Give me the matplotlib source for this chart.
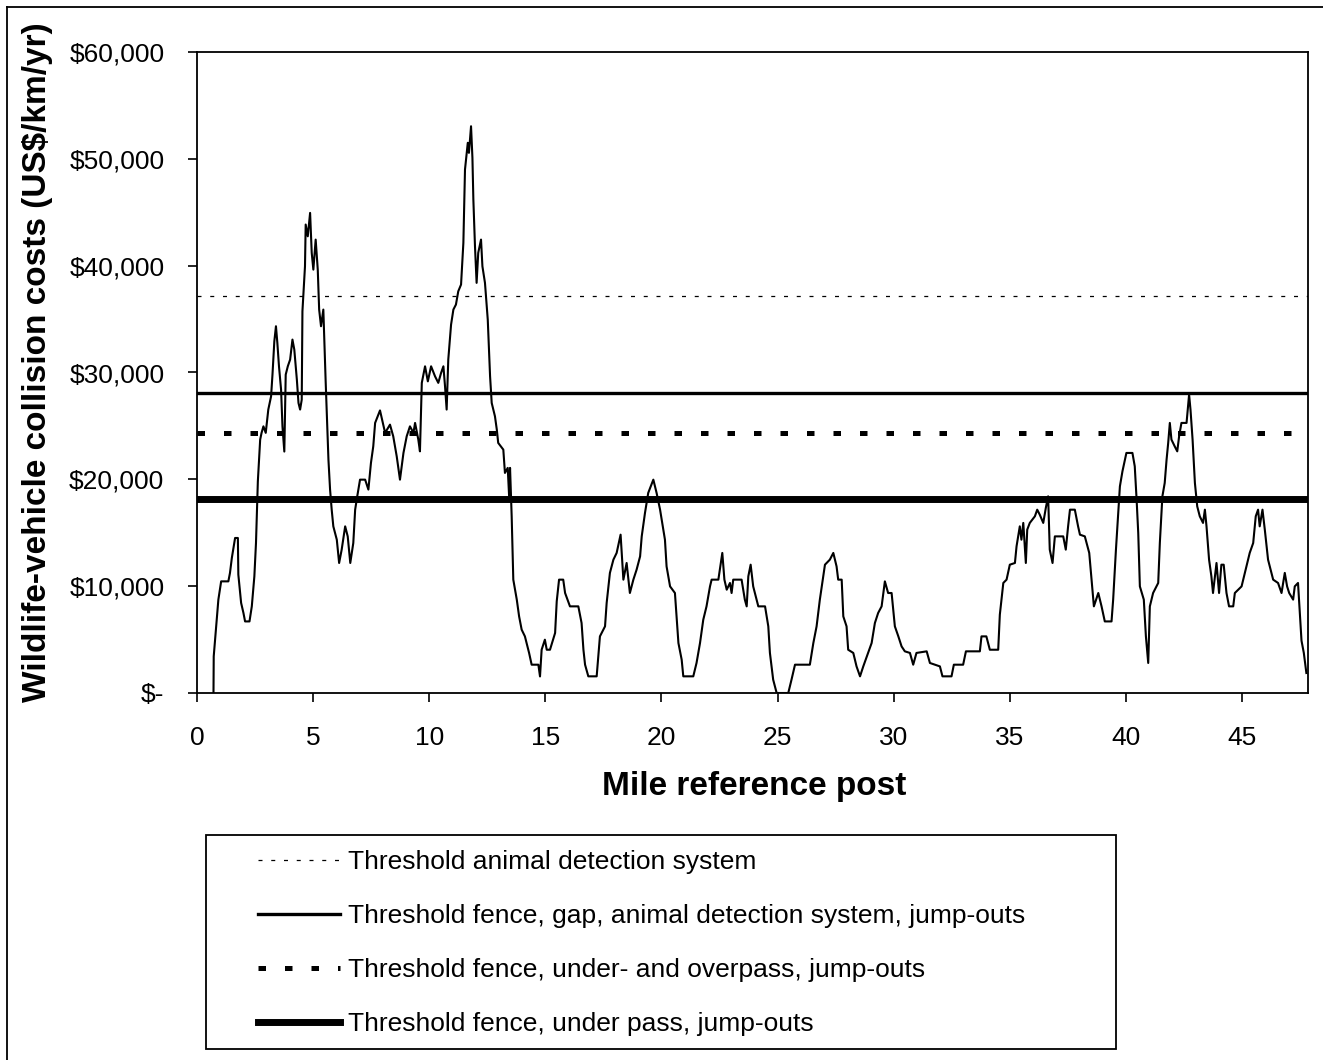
import matplotlib
matplotlib.use("Agg")
import matplotlib.pyplot as plt
from matplotlib.lines import Line2D
from matplotlib.patches import Rectangle

plt.rcParams['font.family'] = ['Liberation Sans', 'DejaVu Sans']

# mile post along the road and collision cost (US$/km/yr)
mile = [0.71, 0.72, 0.85, 0.92, 1.04, 1.35, 1.42, 1.50, 1.64, 1.76, 1.78, 1.90, 2.00, 2.07, 2.26,
        2.36, 2.47, 2.54, 2.62, 2.72, 2.78, 2.86, 2.96, 3.07, 3.19, 3.25, 3.33, 3.40, 3.46, 3.53,
        3.62, 3.68, 3.76, 3.82, 3.91, 4.01, 4.11, 4.19, 4.30, 4.37, 4.44, 4.51, 4.54, 4.65, 4.68,
        4.77, 4.87, 4.94, 5.01, 5.11, 5.20, 5.26, 5.34, 5.44, 5.54, 5.66, 5.73, 5.80, 5.87, 6.02,
        6.12, 6.23, 6.38, 6.49, 6.60, 6.73, 6.81, 6.90, 7.02, 7.24, 7.38, 7.49, 7.59, 7.67, 7.88,
        8.10, 8.31, 8.45, 8.60, 8.74, 8.89, 9.03, 9.17, 9.32, 9.39, 9.53, 9.60, 9.68, 9.82, 9.94,
        10.08, 10.25, 10.39, 10.51, 10.61, 10.68, 10.75, 10.82, 10.94, 11.04, 11.15, 11.25, 11.37,
        11.47, 11.54, 11.66, 11.71, 11.80, 11.86, 11.90, 11.97, 12.04, 12.11, 12.23, 12.29, 12.40,
        12.52, 12.62, 12.69, 12.83, 12.91, 12.97, 13.19, 13.26, 13.38, 13.44, 13.48, 13.55, 13.62,
        13.77, 13.87, 13.98, 14.12, 14.30, 14.41, 14.70, 14.77, 14.84, 14.98, 15.06, 15.20, 15.42,
        15.49, 15.59, 15.77, 15.85, 16.06, 16.42, 16.56, 16.64, 16.71, 16.85, 17.21, 17.28, 17.35,
        17.57, 17.64, 17.78, 17.93, 18.07, 18.24, 18.36, 18.50, 18.64, 18.79, 18.93, 19.08, 19.15,
        19.29, 19.43, 19.65, 19.79, 19.94, 20.15, 20.22, 20.37, 20.58, 20.65, 20.73, 20.87, 20.94,
        21.37, 21.51, 21.66, 21.80, 21.94, 22.09, 22.16, 22.45, 22.62, 22.71, 22.81, 22.95, 23.02,
        23.09, 23.45, 23.59, 23.67, 23.74, 23.84, 23.95, 24.17, 24.46, 24.60, 24.67, 24.81, 24.96,
        25.46, 25.60, 25.75, 26.39, 26.54, 26.68, 26.82, 27.04, 27.25, 27.40, 27.54, 27.61, 27.76,
        27.83, 27.97, 28.04, 28.26, 28.40, 28.55, 28.69, 28.90, 29.05, 29.19, 29.33, 29.48, 29.62,
        29.76, 29.91, 30.05, 30.20, 30.34, 30.48, 30.70, 30.84, 30.98, 31.42, 31.56, 31.99, 32.10,
        32.49, 32.59, 32.99, 33.11, 33.71, 33.78, 33.99, 34.14, 34.50, 34.57, 34.72, 34.86, 35.00,
        35.22, 35.29, 35.43, 35.50, 35.58, 35.69, 35.75, 35.86, 36.08, 36.18, 36.29, 36.44, 36.55,
        36.65, 36.72, 36.84, 36.94, 37.30, 37.41, 37.51, 37.59, 37.80, 37.94, 38.02, 38.23, 38.42,
        38.52, 38.62, 38.81, 38.95, 39.09, 39.38, 39.45, 39.57, 39.67, 39.74, 39.85, 40.02, 40.28,
        40.38, 40.46, 40.53, 40.60, 40.77, 40.86, 40.96, 41.03, 41.17, 41.39, 41.46, 41.57, 41.67,
        41.75, 41.82, 41.89, 41.96, 42.10, 42.21, 42.29, 42.39, 42.61, 42.72, 42.78, 42.87, 42.97,
        43.07, 43.18, 43.32, 43.40, 43.47, 43.58, 43.68, 43.75, 43.90, 44.01, 44.11, 44.21, 44.33,
        44.44, 44.62, 44.69, 44.98, 45.12, 45.33, 45.48, 45.59, 45.69, 45.76, 45.88, 45.98, 46.12,
        46.34, 46.55, 46.70, 46.84, 46.94, 47.03, 47.20, 47.27, 47.41, 47.49, 47.56, 47.66, 47.77]
cost = [0, 3430, 6860, 8740, 10450, 10450, 11240, 12640, 14510, 14510, 11080, 8430, 7490, 6700, 6700,
        8110, 10920, 14040, 19810, 23720, 24350, 24960, 24350, 26530, 27770, 29800, 32920, 34330, 32770, 30580,
        28400, 24960, 22600, 29800, 30580, 31210, 33080, 32140, 29330, 27150, 26530, 27460, 35730, 39940, 43850,
        42750, 44940, 41200, 39630, 42440, 39630, 35890, 34330, 35890, 29170, 21840, 19040, 17160, 15600, 14350,
        12170, 13420, 15600, 14660, 12170, 14040, 17160, 18410, 19970, 19970, 19040, 21530, 23090, 25280, 26450,
        24350, 25120, 24030, 22150, 19970, 22470, 24030, 24960, 24350, 25280, 23720, 22620, 29030, 30580, 29170,
        30580, 29640, 29030, 29960, 30580, 28710, 26530, 31210, 34480, 35890, 36360, 37600, 38230,
        42130, 49000, 51500, 50560, 53050, 50090, 46190, 41820, 38390, 41200, 42440, 39940, 38390,
        34950, 29640, 27150, 25900, 24650, 23410, 22780, 20600, 21070, 18410, 21070, 16540, 10610,
        8740, 7170, 5930, 5300, 3750, 2650, 2650, 1550, 4050, 4990, 4050, 4050, 5620,
        8580, 10610, 10610, 9360, 8110, 8110, 6550, 4050, 2650, 1560, 1560, 3430, 5300,
        6240, 8430, 11240, 12480, 13110, 14820, 10610, 12170, 9360, 10610, 11550, 12790, 14660,
        16850, 18730, 19970, 18730, 17160, 14350, 11850, 9980, 9360, 7170, 4680, 3120, 1560,
        1560, 2810, 4680, 6860, 8110, 9980, 10610, 10610, 13110, 10610, 9670, 10300, 9360,
        10610, 10610, 8740, 8110, 10920, 12010, 9980, 8110, 8110, 6240, 3750, 1250, 0,
        0, 1250, 2650, 2650, 4680, 6240, 8740, 12010, 12480, 13110, 11850, 10610, 10610,
        7170, 6240, 4050, 3750, 2490, 1560, 2490, 3750, 4680, 6550, 7490, 8110, 10450,
        9360, 9360, 6240, 5300, 4360, 3900, 3750, 2650, 3750, 3900, 2810, 2490, 1560,
        1560, 2650, 2650, 3900, 3900, 5300, 5300, 4050, 4050, 7330, 10300, 10610, 12010,
        12170, 13730, 15600, 14350, 15920, 12170, 15290, 15920, 16540, 17160, 16690, 15920, 17320,
        18410, 13420, 12170, 14660, 14660, 13420, 15600, 17160, 17160, 15600, 14820, 14660, 13110,
        10610, 8110, 9360, 8110, 6700, 6700, 8740, 13420, 16850, 19340, 20750, 22470, 22470,
        21220, 18100, 14980, 9980, 8740, 5300, 2810, 8110, 9360, 10300, 14040, 18410, 19660,
        21840, 23410, 25280, 23720, 23090, 22620, 24030, 25280, 25280, 27930, 26530, 23720, 19660,
        17470, 16540, 15920, 17160, 15600, 12480, 10920, 9360, 12170, 9360, 12010, 12010, 9360,
        8110, 8110, 9360, 9980, 11240, 13110, 14040, 16540, 17160, 15600, 17160, 15290, 12480,
        10610, 10300, 9360, 11240, 9980, 9360, 8740, 9980, 10300, 7490, 4900, 3750, 1870]

# threshold values (US$/km/yr)
threshold_names = ['Threshold animal detection system',
                   'Threshold fence, gap, animal detection system, jump-outs',
                   'Threshold fence, under- and overpass, jump-outs',
                   'Threshold fence, under pass, jump-outs']
threshold_values = [37200, 28100, 24300, 18200]

y_ticks = [0, 10000, 20000, 30000, 40000, 50000, 60000]
y_tick_labels = ['$-', '$10,000', '$20,000', '$30,000', '$40,000', '$50,000', '$60,000']
x_ticks = [0, 5, 10, 15, 20, 25, 30, 35, 40, 45]

W, H = 1323, 1060
fig = plt.figure(figsize=(W / 100, H / 100), dpi=100)
ax = fig.add_axes([197 / W, 1 - 693 / H, (1308 - 197) / W, (693 - 52) / H])

# line styles for the four thresholds
styles = [dict(lw=0.9, ls=(0, (3.2, 7.0))),
          dict(lw=2.4, ls='-'),
          dict(lw=3.6, ls=(0, (1.5, 3.8))),
          dict(lw=5.0, ls='-')]

handles = []
for name, val, st in zip(threshold_names, threshold_values, styles):
    h = ax.axhline(val, color='black', label=name, zorder=2, **st)
    handles.append(h)

ax.plot(mile, cost, color='black', lw=1.5, zorder=3)

ax.set_xlim(0, 47.84)
ax.set_ylim(0, 60000)
ax.set_xticks(x_ticks)
ax.set_yticks(y_ticks)
ax.set_yticklabels(y_tick_labels)
ax.tick_params(direction='out', length=6.5, width=1.2, labelsize=19, colors='black')
ax.tick_params(axis='y', pad=17)
ax.tick_params(axis='x', pad=17)
for sp in ax.spines.values():
    sp.set_linewidth(1.3)
    sp.set_color('black')

fig.text(38 / W, 1 - 362 / H, 'Wildlife-vehicle collision costs (US$/km/yr)',
         rotation=90, ha='center', va='center', fontsize=24, fontweight='bold')
fig.text(754 / W, 1 - 786 / H, 'Mile reference post',
         ha='center', va='center', fontsize=24, fontweight='bold')

# legend entries without frame, the box is drawn separately
leg = ax.legend(handles=handles, loc='upper left',
                bbox_to_anchor=(258 / W, 1 - 850 / H), bbox_transform=fig.transFigure,
                fontsize=19, frameon=False, handlelength=3.1, handletextpad=0.3,
                labelspacing=1.14, borderpad=0, borderaxespad=0)
fig.add_artist(Rectangle((206 / W, 1 - 1049 / H), (1116 - 206) / W, (1049 - 835) / H,
                         transform=fig.transFigure, fill=False, edgecolor='black', lw=1.3))

# chart area border, only left and top edges are visible
fig.add_artist(Line2D([7 / W, 7 / W], [0, 1 - 7 / H], transform=fig.transFigure, color='black', lw=1.3))
fig.add_artist(Line2D([7 / W, 1], [1 - 7 / H, 1 - 7 / H], transform=fig.transFigure, color='black', lw=1.3))

fig.savefig('out.png', dpi=100)
